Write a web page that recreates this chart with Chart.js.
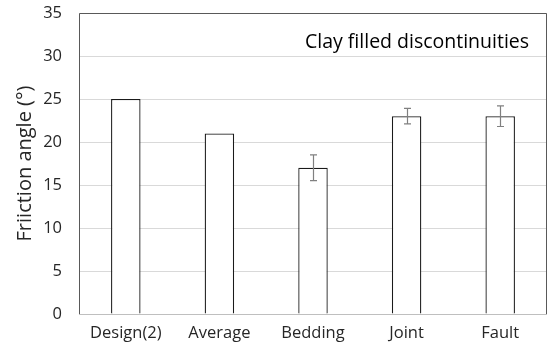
<!DOCTYPE html>
<html>
<head>
<meta charset="utf-8">
<script src="https://cdn.jsdelivr.net/npm/chart.js@4/dist/chart.umd.min.js"></script>
<style>
  html, body { margin: 0; padding: 0; background: #ffffff; }
  #wrap { width: 552px; height: 354px; }
</style>
</head>
<body>
<div id="wrap"><canvas id="c" width="552" height="354"></canvas></div>
<script>
// Friction angle by discontinuity type (clay filled)
const categories = ['Design(2)', 'Average', 'Bedding', 'Joint', 'Fault'];
const frictionAngle = [25, 21, 17, 23, 23];
const errorHalf = [0, 0, 1.5, 0.9, 1.2];
const yTicks = [0, 5, 10, 15, 20, 25, 30, 35];
const panelTitle = 'Clay filled discontinuities';

const FONT = '"Open Sans", Lato, sans-serif';

// Error bars with caps, drawn through the chart scales
const errorBars = {
  id: 'errorBars',
  afterDatasetsDraw(chart) {
    const { ctx, scales: { x, y } } = chart;
    ctx.save();
    ctx.strokeStyle = '#808080';
    ctx.lineWidth = 1.2;
    frictionAngle.forEach((v, i) => {
      const e = errorHalf[i];
      if (!e) return;
      const px = Math.round(x.getPixelForValue(i)) + 0.5;
      const top = y.getPixelForValue(v + e);
      const bot = y.getPixelForValue(v - e);
      ctx.beginPath();
      ctx.moveTo(px, top); ctx.lineTo(px, bot);
      ctx.moveTo(px - 3.5, top); ctx.lineTo(px + 3.5, top);
      ctx.moveTo(px - 3.5, bot); ctx.lineTo(px + 3.5, bot);
      ctx.stroke();
    });
    ctx.restore();
  }
};

// Plot frame and the label inside the plot
const frame = {
  id: 'frame',
  afterDraw(chart) {
    const { ctx, chartArea: a } = chart;
    ctx.save();
    ctx.strokeStyle = '#595959';
    ctx.lineWidth = 1;
    ctx.beginPath();
    ctx.moveTo(a.left + 0.5, a.bottom);
    ctx.lineTo(a.left + 0.5, a.top + 0.5);
    ctx.lineTo(a.right - 0.5, a.top + 0.5);
    ctx.lineTo(a.right - 0.5, a.bottom);
    ctx.stroke();
    ctx.strokeStyle = '#bfbfbf';
    ctx.beginPath();
    ctx.moveTo(a.left, a.bottom + 0.5);
    ctx.lineTo(a.right, a.bottom + 0.5);
    ctx.stroke();
    ctx.fillStyle = '#000000';
    ctx.font = '19.5px ' + FONT;
    ctx.textAlign = 'center';
    ctx.textBaseline = 'middle';
    ctx.fillText(panelTitle, a.left + 338, a.top + 29);
    ctx.restore();
  }
};

new Chart(document.getElementById('c'), {
  type: 'bar',
  data: {
    labels: categories,
    datasets: [{
      data: frictionAngle,
      backgroundColor: '#ffffff',
      borderColor: '#1a1a1a',
      borderWidth: 1.3,
      borderSkipped: 'bottom',
      barPercentage: 0.315,
      categoryPercentage: 1.0
    }]
  },
  options: {
    responsive: false,
    animation: false,
    devicePixelRatio: 1,
    layout: { padding: { left: 0, right: 5, top: 13, bottom: 0 } },
    plugins: { legend: { display: false }, tooltip: { enabled: false } },
    scales: {
      x: {
        grid: { display: false, drawTicks: false },
        border: { display: false },
        ticks: { color: '#262626', font: { family: FONT, size: 16.5 }, padding: 9 },
        afterFit(s) { s.height = 40; s.paddingLeft = 0; s.paddingRight = 0; }
      },
      y: {
        min: 0, max: 35,
        afterBuildTicks(s) { s.ticks = yTicks.map(v => ({ value: v })); },
        grid: { color: '#d9d9d9', lineWidth: 1, drawTicks: false },
        border: { display: false },
        ticks: { color: '#262626', font: { family: FONT, size: 16.5 }, padding: 17 },
        title: {
          display: true,
          text: 'Friiction angle (°)',
          color: '#262626',
          font: { family: FONT, size: 20 },
          padding: { top: 13, bottom: 0 }
        },
        afterFit(s) { s.width = 79; s.paddingTop = 0; s.paddingBottom = 0; }
      }
    }
  },
  plugins: [errorBars, frame]
});
</script>
</body>
</html>
